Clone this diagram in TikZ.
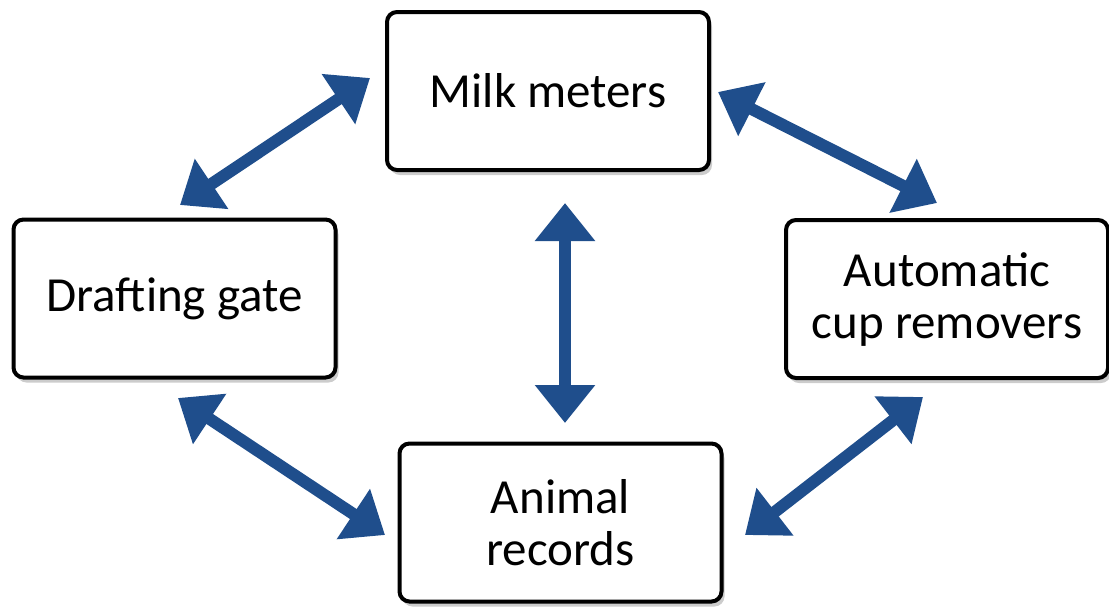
\documentclass[tikz,border=0pt]{standalone}
\usepackage{fontspec}
\setmainfont{Carlito}
\usetikzlibrary{arrows.meta,shadows}
\definecolor{flèche}{RGB}{31,78,140}
\begin{document}
\begin{tikzpicture}[x=0.5pt,y=-0.5pt]
            \tikzstyle{boite}=[draw,line width=2pt,rounded corners=5pt,fill=white,
                minimum width=161pt,minimum height=79pt,align=center,
                font=\fontsize{24.5}{26}\selectfont,
                drop shadow={opacity=0.4,shadow xshift=1.5pt,shadow yshift=-2.5pt}]
            \tikzstyle{lien}=[{Triangle[width=29pt,length=19pt]}-{Triangle[width=29pt,length=19pt]},line width=6pt,draw=flèche,fill=flèche]
            \useasboundingbox (0,0) rectangle (1109,607);
            \node[boite] (lait) at (548,91) {Milk meters};
            \node[boite] (porte) at (174.5,298.5) {Drafting gate};
            \node[boite] (retrait) at (947,299) {Automatic\\cup removers};
            \node[boite] (fiches) at (560.5,522.5) {Animal\\records};
            \coordinate (lait-o) at (370,78);
            \coordinate (porte-n) at (180,205);
            \coordinate (lait-e) at (718,92);
            \coordinate (retrait-n) at (937,203);
            \coordinate (lait-s) at (565,203);
            \coordinate (fiches-n) at (565,423);
            \coordinate (porte-s) at (178,398);
            \coordinate (fiches-o) at (385,535);
            \coordinate (retrait-s) at (923,397);
            \coordinate (fiches-e) at (745,535);
            \draw[lien] (lait-o) -- (porte-n);
            \draw[lien] (lait-e) -- (retrait-n);
            \draw[lien] (lait-s) -- (fiches-n);
            \draw[lien] (porte-s) -- (fiches-o);
            \draw[lien] (retrait-s) -- (fiches-e);
        \end{tikzpicture}
\end{document}
